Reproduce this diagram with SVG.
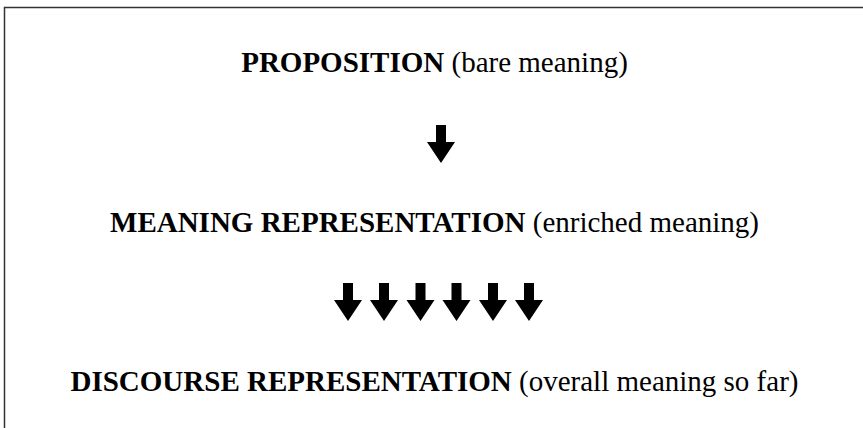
<svg xmlns="http://www.w3.org/2000/svg" xmlns:xlink="http://www.w3.org/1999/xlink" width="863" height="428" viewBox="0 0 863 428">
  <style>
    .label { font-family: "Liberation Serif", "Times New Roman", serif; font-size: 29px; fill: #000; text-anchor: middle; }
    .strong { font-weight: bold; }
    .frame { fill: none; stroke: #333; stroke-width: 1.5; }
    .arrow { fill: #000; }
  </style>
  <defs>
    <!-- block down-arrow, origin at top centre of the shaft -->
    <path id="downArrow" class="arrow" d="M -5 0 H 5 V 17 H 14 L 0 38 L -14 17 H -5 Z"/>
  </defs>

  <rect width="863" height="428" fill="#fff"/>
  <!-- frame: open on the right and bottom edges -->
  <rect class="frame" x="4.5" y="7.5" width="880" height="440"/>

  <g id="proposition">
    <text class="label" x="434.5" y="72"><tspan class="strong">PROPOSITION</tspan> (bare meaning)</text>
  </g>

  <g id="meaning-representation">
    <text class="label" x="434.5" y="232"><tspan class="strong">MEANING REPRESENTATION</tspan> (enriched meaning)</text>
  </g>

  <g id="discourse-representation">
    <text class="label" x="434.5" y="391"><tspan class="strong">DISCOURSE REPRESENTATION</tspan> (overall meaning so far)</text>
  </g>

  <g id="connectors">
    <use xlink:href="#downArrow" x="441" y="125"/>
    <use xlink:href="#downArrow" x="348" y="283"/>
    <use xlink:href="#downArrow" x="384" y="283"/>
    <use xlink:href="#downArrow" x="420.5" y="283"/>
    <use xlink:href="#downArrow" x="456.5" y="283"/>
    <use xlink:href="#downArrow" x="493" y="283"/>
    <use xlink:href="#downArrow" x="529" y="283"/>
  </g>
</svg>
